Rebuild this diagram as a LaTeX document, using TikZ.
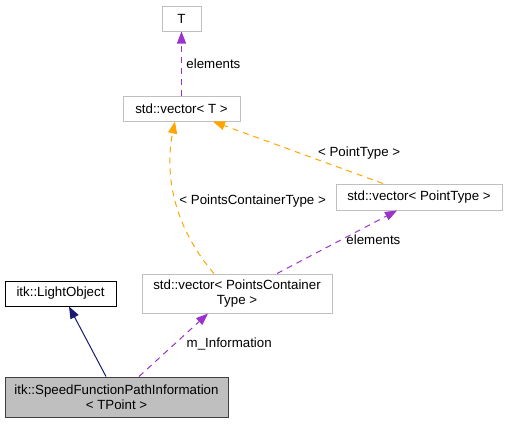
\documentclass[tikz,border=0pt]{standalone}
\usepackage{fontspec}
\setmainfont{Liberation Sans}
\usetikzlibrary{arrows.meta, positioning}

\definecolor{usepurple}{HTML}{9A32CD}
\definecolor{tplorange}{HTML}{FFA500}
\definecolor{basenavy}{HTML}{191970}
\definecolor{boxgray}{HTML}{BFBFBF}
\definecolor{darkframe}{HTML}{404040}

\begin{document}
\begin{tikzpicture}[
    x=1pt, y=-1pt,
    font=\fontsize{13.3}{15}\selectfont,
    box/.style={rectangle, draw=boxgray, line width=1pt, minimum height=25pt, inner sep=0pt, align=center},
    classbox/.style={box, draw=black},
    thisbox/.style={box, fill=boxgray, draw=darkframe, minimum height=40pt},
    member/.style={-{Triangle[length=12pt, width=9pt]}, line width=1pt, dash pattern=on 6pt off 5pt, draw=usepurple},
    tplarg/.style={member, draw=tplorange},
    inherit/.style={-{Triangle[length=12pt, width=9pt]}, line width=1pt, draw=basenavy},
]
    \useasboundingbox (0,0) rectangle (508,424);

    % Nodes
    \node[box, minimum width=39pt] (t) at (181.5,18.5) {T};
    \node[box, minimum width=117pt, below=64pt of t] (vect) {std::vector< T >};
    \node[box, minimum width=166pt, minimum height=26pt] (vecpt) at (419,197) {std::vector< PointType >};
    \node[box, minimum width=190pt, minimum height=39pt] (vecpc) at (237,293.5) {std::vector< PointsContainer\\Type >};
    \node[classbox, minimum width=111pt, left=25pt of vecpc] (light) {itk::LightObject};
    \node[thisbox, minimum width=223pt] (speed) at (116.5,397) {itk::SpeedFunctionPathInformation\\< TPoint >};

    % Arrows
    \draw[member, line width=1.2pt] (vect.north) -- node[right, xshift=1pt] {elements} (t.south);
    \draw[tplarg] ([xshift=-36pt]vecpt.north) -- node[pos=0.14, above=12pt] {< PointType >} ([xshift=31.5pt]vect.south);
    \draw[tplarg] ([xshift=-23pt]vecpc.north) .. controls (168,220) and (166,165) .. node[pos=0.45, right] {< PointsContainerType >} ([xshift=-6.5pt]vect.south);
    \draw[member] ([xshift=40pt]vecpc.north) -- node[pos=0.53, right, xshift=2pt] {elements} ([xshift=-22pt]vecpt.south);
    \draw[inherit] ([xshift=-10.5pt]speed.north) -- ([xshift=8.5pt]light.south);
    \draw[member] ([xshift=22.5pt]speed.north) -- node[pos=0.52, right=8pt] {m\_Information} ([xshift=-29pt]vecpc.south);
\end{tikzpicture}
\end{document}
